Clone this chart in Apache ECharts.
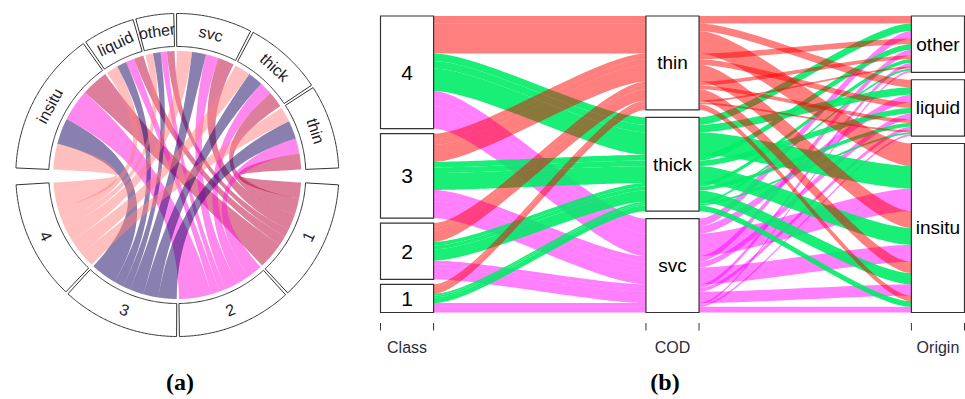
<!DOCTYPE html>
<html>
<head>
<meta charset="utf-8">
<script src="https://cdn.jsdelivr.net/npm/echarts@6/dist/echarts.min.js"></script>
<style>
html, body { margin: 0; padding: 0; background: #ffffff; }
#main { width: 965px; height: 399px; }
</style>
</head>
<body>
<div id="main"></div>
<script>
// ---------- (a) chord diagram: class against origin and COD ----------
const chordClasses = ['1', '2', '3', '4'];
const chordTargets = ['insitu', 'liquid', 'other', 'svc', 'thick', 'thin'];
// link widths from each class to insitu, liquid, other, svc, thick, thin
const chordClass1 = [12.5, 4.5, 3.5, 7.5, 7.5, 7.5];
const chordClass2 = [15, 4, 3, 6, 6, 7];
const chordClass3 = [12, 4.5, 3.5, 6.5, 7, 8.5];
const chordClass4 = [12, 5.5, 3.5, 7, 7.5, 7];

// ---------- (b) parallel sets: Class -> COD -> Origin ----------
const axisNames = ['Class', 'COD', 'Origin'];
const classLevels = ['1', '2', '3', '4'];
const codLevels = ['svc', 'thick', 'thin'];
const originLevels = ['insitu', 'liquid', 'other'];
// record counts; rows: class 1..4, columns: insitu, liquid, other
const freqSvc = [[3, 1, 1], [6, 2, 2], [9, 3, 3], [12, 4, 4]];
const freqThick = [[3, 1, 1], [6, 2, 2], [9, 3, 3], [12, 4, 4]];
const freqThin = [[3, 1, 1], [6, 2, 2], [9, 3, 3], [12, 4, 4]];

// ---------- styling ----------
const chordColors = ['rgba(187,0,55,0.5)', 'rgba(255,17,221,0.5)', 'rgba(22,2,98,0.5)', 'rgba(255,128,128,0.5)'];
const codColors = ['rgba(255,0,255,0.5)', 'rgba(0,236,104,0.9)', 'rgba(255,0,0,0.5)'];
const FONT = '"Liberation Sans", Arial, sans-serif';

// ---------- chord layout (angles in degrees, clockwise from 9 o'clock) ----------
const R_OUT = 161.5, R_TRACK_IN = 128.5, R_LINK = 124;
const SMALL_GAP = 1, BIG_GAP = 6;
const chordMatrix = [chordClass1, chordClass2, chordClass3, chordClass4];
const rowSum = chordMatrix.map(r => r.reduce((a, b) => a + b, 0));
const colSum = chordTargets.map((_, j) => chordMatrix.reduce((a, r) => a + r[j], 0));
const chordTotal = rowSum.reduce((a, b) => a + b, 0);
const degPerUnit = (360 - 2 * BIG_GAP - (chordClasses.length - 1 + chordTargets.length - 1) * SMALL_GAP) / (2 * chordTotal);

function layoutArcs(sums, center) {
  const span = sums.reduce((a, b) => a + b, 0) * degPerUnit + (sums.length - 1) * SMALL_GAP;
  let t = center - span / 2;
  return sums.map(s => {
    const arc = [t, t + s * degPerUnit];
    t = arc[1] + SMALL_GAP;
    return arc;
  });
}
const targetArcs = layoutArcs(colSum, 90);
const classArcs = layoutArcs(rowSum, 270);

// link ends: inside a class sector targets run thin..insitu, inside a target sector classes run 4..1
const links = [];
const classCursor = classArcs.map(a => a[0]);
const targetCursor = targetArcs.map(a => a[0]);
const classEnd = {}, targetEnd = {};
chordClasses.forEach((_, i) => {
  for (let j = chordTargets.length - 1; j >= 0; j--) {
    const w = chordMatrix[i][j] * degPerUnit;
    classEnd[i + '_' + j] = [classCursor[i], classCursor[i] + w];
    classCursor[i] += w;
  }
});
chordTargets.forEach((_, j) => {
  for (let i = chordClasses.length - 1; i >= 0; i--) {
    const w = chordMatrix[i][j] * degPerUnit;
    targetEnd[i + '_' + j] = [targetCursor[j], targetCursor[j] + w];
    targetCursor[j] += w;
  }
});
chordClasses.forEach((_, i) => chordTargets.forEach((_, j) => {
  links.push({ i: i, j: j, a: classEnd[i + '_' + j], b: targetEnd[i + '_' + j] });
}));
const sectors = classArcs.map((arc, i) => ({ arc: arc, name: chordClasses[i], bottom: true }))
  .concat(targetArcs.map((arc, j) => ({ arc: arc, name: chordTargets[j], bottom: false })));

function arcPoints(api, r, t0, t1) {
  const pts = [];
  const n = Math.max(2, Math.ceil(Math.abs(t1 - t0) / 0.5));
  for (let k = 0; k <= n; k++) pts.push(api.coord([r, t0 + (t1 - t0) * k / n]).slice(0, 2));
  return pts;
}
function quadPoints(p0, c, p2) {
  const pts = [];
  const n = 40;
  for (let k = 1; k < n; k++) {
    const s = k / n, u = 1 - s;
    pts.push([u * u * p0[0] + 2 * u * s * c[0] + s * s * p2[0], u * u * p0[1] + 2 * u * s * c[1] + s * s * p2[1]]);
  }
  return pts;
}

function renderLink(params, api) {
  const L = links[api.value(2)];
  const center = api.coord([0, 0]).slice(0, 2);
  const arcA = arcPoints(api, R_LINK, L.a[0], L.a[1]);
  const arcB = arcPoints(api, R_LINK, L.b[0], L.b[1]);
  const pts = arcA
    .concat(quadPoints(arcA[arcA.length - 1], center, arcB[0]))
    .concat(arcB)
    .concat(quadPoints(arcB[arcB.length - 1], center, arcA[0]));
  return { type: 'polygon', shape: { points: pts }, style: { fill: chordColors[L.i] }, silent: true };
}

function renderSector(params, api) {
  const S = sectors[api.value(2)];
  const outer = arcPoints(api, R_OUT, S.arc[0], S.arc[1]);
  const inner = arcPoints(api, R_TRACK_IN, S.arc[1], S.arc[0]);
  const mid = (S.arc[0] + S.arc[1]) / 2;
  const pos = api.coord([(R_OUT + R_TRACK_IN) / 2, mid]);
  const rotDeg = S.bottom ? 270 - mid : 90 - mid;
  return {
    type: 'group',
    children: [
      { type: 'polygon', shape: { points: outer.concat(inner) },
        style: { fill: '#ffffff', stroke: '#333333', lineWidth: 1 }, silent: true },
      { type: 'text', x: pos[0], y: pos[1], rotation: rotDeg * Math.PI / 180,
        style: { text: S.name, fill: '#1c1c2a', font: '16px ' + FONT, align: 'center', verticalAlign: 'middle' }, silent: true }
    ]
  };
}

// ---------- parallel-sets layout (alluvial stripe stacking) ----------
const GAP_WIDTH = 0.05, BOX_HALF = 0.1;
const freqByCod = [freqSvc, freqThick, freqThin];
const rows = [];
classLevels.forEach((c, ci) => codLevels.forEach((d, di) => originLevels.forEach((o, oi) => {
  const f = freqByCod[di][ci][oi];
  if (f > 0) rows.push({ v: [ci, di, oi], f: f });
})));
const rowTotal = rows.reduce((a, r) => a + r.f, 0);

function stripes(axis) {
  const keys = [axis].concat([0, 1, 2].filter(k => k !== axis));
  const ord = rows.map((_, i) => i).sort((a, b) => {
    for (const k of keys) {
      const d = rows[a].v[k] - rows[b].v[k];
      if (d !== 0) return d;
    }
    return 0;
  });
  const nLev = new Set(rows.map(r => r.v[axis])).size;
  const res = [];
  let cum = 0, gaps = 0, prev = null;
  ord.forEach(i => {
    const lv = rows[i].v[axis];
    if (prev !== null && lv !== prev) gaps++;
    prev = lv;
    const shift = nLev > 1 ? gaps / (nLev - 1) * GAP_WIDTH : 0;
    const lo = cum / rowTotal * (1 - GAP_WIDTH) + shift;
    cum += rows[i].f;
    const hi = cum / rowTotal * (1 - GAP_WIDTH) + shift;
    res[i] = [lo, hi];
  });
  return res;
}
const stripeY = [0, 1, 2].map(stripes);
const levelsByAxis = [classLevels, codLevels, originLevels];
const boxes = [];
levelsByAxis.forEach((levels, ax) => levels.forEach((name, li) => {
  let lo = Infinity, hi = -Infinity;
  rows.forEach((r, i) => {
    if (r.v[ax] === li) { lo = Math.min(lo, stripeY[ax][i][0]); hi = Math.max(hi, stripeY[ax][i][1]); }
  });
  if (hi > lo) boxes.push({ ax: ax, name: name, lo: lo, hi: hi });
}));

function bezierSide(p0, p1) {
  const pts = [];
  const n = 48;
  const a = (p1[0] - p0[0]) * 0.22;
  const c0 = [p0[0] + a, p0[1]], c1 = [p1[0] - a, p1[1]];
  for (let k = 0; k <= n; k++) {
    const s = k / n, u = 1 - s;
    pts.push([
      u * u * u * p0[0] + 3 * u * u * s * c0[0] + 3 * u * s * s * c1[0] + s * s * s * p1[0],
      u * u * u * p0[1] + 3 * u * u * s * c0[1] + 3 * u * s * s * c1[1] + s * s * s * p1[1]
    ]);
  }
  return pts;
}

function renderAlluvium(params, api) {
  const idx = api.value(2);
  const r = rows[idx];
  const children = [];
  for (let k = 0; k < 2; k++) {
    const s0 = stripeY[k][idx], s1 = stripeY[k + 1][idx];
    const top = bezierSide(api.coord([k + BOX_HALF, s0[1]]), api.coord([k + 1 - BOX_HALF, s1[1]]));
    const bot = bezierSide(api.coord([k + 1 - BOX_HALF, s1[0]]), api.coord([k + BOX_HALF, s0[0]]));
    children.push({ type: 'polygon', shape: { points: top.concat(bot) }, style: { fill: codColors[r.v[1]] }, silent: true });
  }
  return { type: 'group', children: children };
}

function renderBox(params, api) {
  const B = boxes[api.value(2)];
  const p0 = api.coord([B.ax - BOX_HALF, B.hi]);
  const p1 = api.coord([B.ax + BOX_HALF, B.lo]);
  const c = api.coord([B.ax, (B.lo + B.hi) / 2]);
  const isNum = B.ax === 0;
  return {
    type: 'group',
    children: [
      { type: 'rect', shape: { x: p0[0], y: p0[1], width: p1[0] - p0[0], height: p1[1] - p0[1] },
        style: { fill: '#ffffff', stroke: '#333333', lineWidth: 1.2 }, silent: true },
      { type: 'text', x: c[0], y: c[1],
        style: { text: B.name, fill: '#000000', font: (isNum ? '21px ' : '19px ') + FONT, align: 'center', verticalAlign: 'middle' }, silent: true }
    ]
  };
}

function renderAxisLabel(params, api) {
  const ax = api.value(2);
  const left = api.coord([ax - BOX_HALF, 0]);
  const right = api.coord([ax + BOX_HALF, 0]);
  const mid = api.coord([ax, 0]);
  const tick = (p) => ({ type: 'line', shape: { x1: p[0], y1: p[1] + 10.5, x2: p[0], y2: p[1] + 18 },
    style: { stroke: '#333333', lineWidth: 1 }, silent: true });
  return {
    type: 'group',
    children: [
      tick(left), tick(right),
      { type: 'text', x: mid[0], y: mid[1] + 35,
        style: { text: axisNames[ax], fill: '#2b2b3a', font: '16px ' + FONT, align: 'center', verticalAlign: 'middle' }, silent: true }
    ]
  };
}

// svc drawn first, thin last
const alluviumOrder = rows.map((_, i) => i).sort((a, b) => rows[a].v[1] - rows[b].v[1]);

const chart = echarts.init(document.getElementById('main'), null, { renderer: 'svg' });
chart.setOption({
  animation: false,
  backgroundColor: '#ffffff',
  polar: { center: [177.3, 175], radius: R_OUT },
  angleAxis: { type: 'value', min: 0, max: 360, startAngle: 180, clockwise: true,
    axisLine: { show: false }, axisTick: { show: false }, axisLabel: { show: false }, splitLine: { show: false } },
  radiusAxis: { type: 'value', min: 0, max: R_OUT,
    axisLine: { show: false }, axisTick: { show: false }, axisLabel: { show: false }, splitLine: { show: false } },
  grid: { left: 380.5, top: 16, width: 584, height: 296.5 },
  xAxis: { type: 'value', min: -BOX_HALF, max: 2 + BOX_HALF, show: false },
  yAxis: { type: 'value', min: 0, max: 1, show: false },
  graphic: [
    { type: 'text', x: 180, y: 382, style: { text: '(a)', fill: '#000', font: 'bold 24px "Liberation Serif", serif', align: 'center', verticalAlign: 'middle' } },
    { type: 'text', x: 665, y: 382, style: { text: '(b)', fill: '#000', font: 'bold 24px "Liberation Serif", serif', align: 'center', verticalAlign: 'middle' } }
  ],
  series: [
    { type: 'custom', coordinateSystem: 'polar', renderItem: renderLink,
      data: links.map((_, i) => [0, 0, i]), z: 1 },
    { type: 'custom', coordinateSystem: 'polar', renderItem: renderSector,
      data: sectors.map((_, i) => [0, 0, i]), z: 2 },
    { type: 'custom', coordinateSystem: 'cartesian2d', renderItem: renderAlluvium,
      data: alluviumOrder.map(i => [0, 0.5, i]), z: 1 },
    { type: 'custom', coordinateSystem: 'cartesian2d', renderItem: renderBox,
      data: boxes.map((_, i) => [0, 0.5, i]), z: 2 },
    { type: 'custom', coordinateSystem: 'cartesian2d', renderItem: renderAxisLabel,
      data: axisNames.map((_, i) => [0, 0.5, i]), z: 2 }
  ]
});
</script>
</body>
</html>
